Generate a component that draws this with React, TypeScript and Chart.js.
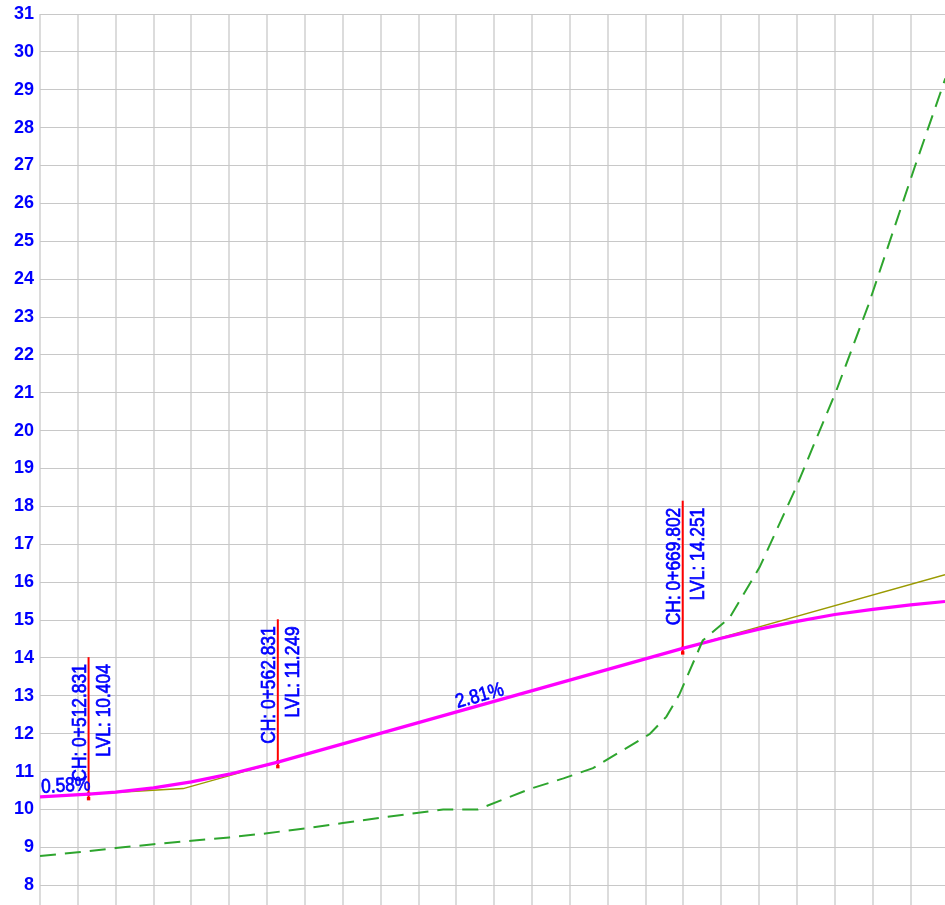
import React, { useEffect, useRef } from 'react';
import { Chart, registerables } from 'chart.js';

Chart.register(...registerables);

// Existing ground (green dashed)
const groundCh = [500, 510, 520, 530, 540, 550, 560, 570, 580, 590, 600, 606.5, 615.7, 629.4, 638.3, 646.1, 661.1, 665.5, 669.0, 675.1, 682.2, 690.1, 699.8, 710.4, 718.8, 731.1, 739.2];
const groundLvl = [8.77, 8.87, 8.98, 9.08, 9.17, 9.26, 9.37, 9.5, 9.64, 9.78, 9.91, 10.0, 10.0, 10.54, 10.82, 11.09, 11.99, 12.45, 13.05, 14.46, 15.06, 16.39, 18.51, 21.06, 23.3, 26.96, 29.3];

// Design profile (magenta)
const designCh = [500, 512.831, 520, 530, 540, 550, 562.831, 669.802, 680, 690, 700, 710, 720, 730, 739.1];
const designLvl = [10.33, 10.404, 10.457, 10.57, 10.726, 10.93, 11.249, 14.251, 14.52, 14.76, 14.965, 15.145, 15.28, 15.4, 15.49];

// Tangent lines (olive)
const tangentACh = [512.831, 537.831, 562.831];
const tangentALvl = [10.404, 10.549, 11.249];
const tangentBCh = [669.802, 739.1];
const tangentBLvl = [14.251, 16.198];

// Chainage markers
const markCh = [512.831, 562.831, 669.802];
const markLvl = [10.404, 11.249, 14.251];
const markTop = [14.02, 15.02, 18.15];

// Grade labels
const gradeText = ['0.58%', '2.81%'];
const gradeFromCh = [500, 562.831];
const gradeFromLvl = [10.33, 11.249];
const gradeToCh = [512.831, 669.802];
const gradeToLvl = [10.404, 14.251];

// Axis ranges and tick values
const xMin = 500;
const xMax = 739.1;
const xGrid = [500, 510, 520, 530, 540, 550, 560, 570, 580, 590, 600, 610, 620, 630, 640, 650, 660, 670, 680, 690, 700, 710, 720, 730];
const yMin = 7.45;
const yMax = 31;
const yTicks = [8, 9, 10, 11, 12, 13, 14, 15, 16, 17, 18, 19, 20, 21, 22, 23, 24, 25, 26, 27, 28, 29, 30, 31];

const BLUE = '#0000ff';
const MAGENTA = '#ff00ff';
const OLIVE = '#9a9a00';
const GREEN = '#2ea52e';
const RED = '#ff0000';
const FONT = '20px "Liberation Sans", Arial, sans-serif';

const pts = (xs: number[], ys: number[]) => xs.map((x, i) => ({ x, y: ys[i] }));

const fmtCh = (ch: number) => {
  const km = Math.floor(ch / 1000);
  const m = (ch - km * 1000).toFixed(3).padStart(7, '0');
  return `${km}+${m}`;
};

const labelPlugin = {
  id: 'profileLabels',
  afterDatasetsDraw(chart: any) {
    const { ctx } = chart;
    const x = chart.scales.x;
    const y = chart.scales.y;
    ctx.save();
    ctx.fillStyle = BLUE;
    ctx.strokeStyle = BLUE;
    ctx.lineWidth = 0.7;
    markCh.forEach((ch, i) => {
      const px = x.getPixelForValue(ch);
      const pyTop = y.getPixelForValue(markTop[i]);
      const items: [string, number][] = [
        [`CH: ${fmtCh(ch)}`, -3],
        [`LVL: ${markLvl[i].toFixed(3)}`, 21.5],
      ];
      items.forEach(([t, dx]) => {
        ctx.save();
        ctx.translate(px + dx, pyTop + 7);
        ctx.rotate(-Math.PI / 2);
        ctx.scale(0.87, 1);
        ctx.font = FONT;
        ctx.textAlign = 'right';
        ctx.textBaseline = 'alphabetic';
        ctx.fillText(t, 0, 0);
        ctx.strokeText(t, 0, 0);
        ctx.restore();
      });
    });
    gradeText.forEach((t, i) => {
      const x1 = x.getPixelForValue(gradeFromCh[i]);
      const y1 = y.getPixelForValue(gradeFromLvl[i]);
      const x2 = x.getPixelForValue(gradeToCh[i]);
      const y2 = y.getPixelForValue(gradeToLvl[i]);
      const ang = Math.atan2(y2 - y1, x2 - x1);
      ctx.save();
      ctx.translate((x1 + x2) / 2 + 2, (y1 + y2) / 2);
      ctx.rotate(ang);
      ctx.translate(0, -4);
      ctx.scale(0.87, 1);
      ctx.font = FONT;
      ctx.textAlign = 'center';
      ctx.textBaseline = 'alphabetic';
      ctx.fillText(t, 0, 0);
      ctx.strokeText(t, 0, 0);
      ctx.restore();
    });
    ctx.restore();
  },
};

export default function App() {
  const ref = useRef<HTMLCanvasElement | null>(null);
  useEffect(() => {
    document.body.style.margin = '0';
    const canvas = ref.current;
    if (!canvas) return;
    const markerSets = markCh.map((ch, i) => ({
      label: `marker${i}`,
      data: [
        { x: ch, y: markLvl[i] - 0.12 },
        { x: ch, y: markLvl[i] },
        { x: ch, y: markTop[i] },
      ],
      borderColor: RED,
      backgroundColor: RED,
      borderWidth: 2,
      pointRadius: [2.4, 2.4, 0],
      pointStyle: 'rect',
      pointBorderWidth: 0,
      tension: 0,
    }));
    const chart = new Chart(canvas, {
      type: 'line',
      data: {
        datasets: [
          {
            label: 'ground',
            data: pts(groundCh, groundLvl),
            borderColor: GREEN,
            borderWidth: 2,
            borderDash: [16, 9],
            pointRadius: 0,
            tension: 0,
          },
          {
            label: 'design',
            data: pts(designCh, designLvl),
            borderColor: MAGENTA,
            borderWidth: 3.2,
            pointRadius: 0,
            tension: 0,
          },
          {
            label: 'tangentA',
            data: pts(tangentACh, tangentALvl),
            borderColor: OLIVE,
            borderWidth: 1.5,
            pointRadius: 0,
            tension: 0,
          },
          {
            label: 'tangentB',
            data: pts(tangentBCh, tangentBLvl),
            borderColor: OLIVE,
            borderWidth: 1.5,
            pointRadius: 0,
            tension: 0,
          },
          ...markerSets,
        ] as any,
      },
      options: {
        animation: false,
        responsive: false,
        parsing: false as any,
        normalized: true,
        layout: { padding: { top: 14, left: 0, right: 0, bottom: 0 } },
        plugins: {
          legend: { display: false },
          tooltip: { enabled: false },
          title: { display: false },
        },
        scales: {
          x: {
            type: 'linear',
            min: xMin,
            max: xMax,
            ticks: { display: false },
            grid: { color: '#dcdcdc', lineWidth: 2, drawTicks: false },
            border: { display: false },
            afterBuildTicks: (s: any) => {
              s.ticks = xGrid.map((v) => ({ value: v }));
            },
            afterFit: (s: any) => {
              s.height = 0;
              s.paddingLeft = 0;
              s.paddingRight = 0;
            },
          },
          y: {
            type: 'linear',
            min: yMin,
            max: yMax,
            ticks: {
              color: BLUE,
              padding: 6,
              font: { family: '"Liberation Sans", Arial, sans-serif', size: 18, weight: 'bold' },
            },
            grid: { color: '#c8c8c8', lineWidth: 1, drawTicks: false },
            border: { display: false },
            afterBuildTicks: (s: any) => {
              s.ticks = yTicks.map((v) => ({ value: v }));
            },
            afterFit: (s: any) => {
              s.width = 40;
              s.paddingTop = 0;
              s.paddingBottom = 0;
            },
          },
        },
      } as any,
      plugins: [labelPlugin],
    });
    return () => chart.destroy();
  }, []);
  return (
    <div style={{ width: 945, height: 905, overflow: 'hidden' }}>
      <canvas ref={ref} width={949} height={910} style={{ display: 'block' }} />
    </div>
  );
}
